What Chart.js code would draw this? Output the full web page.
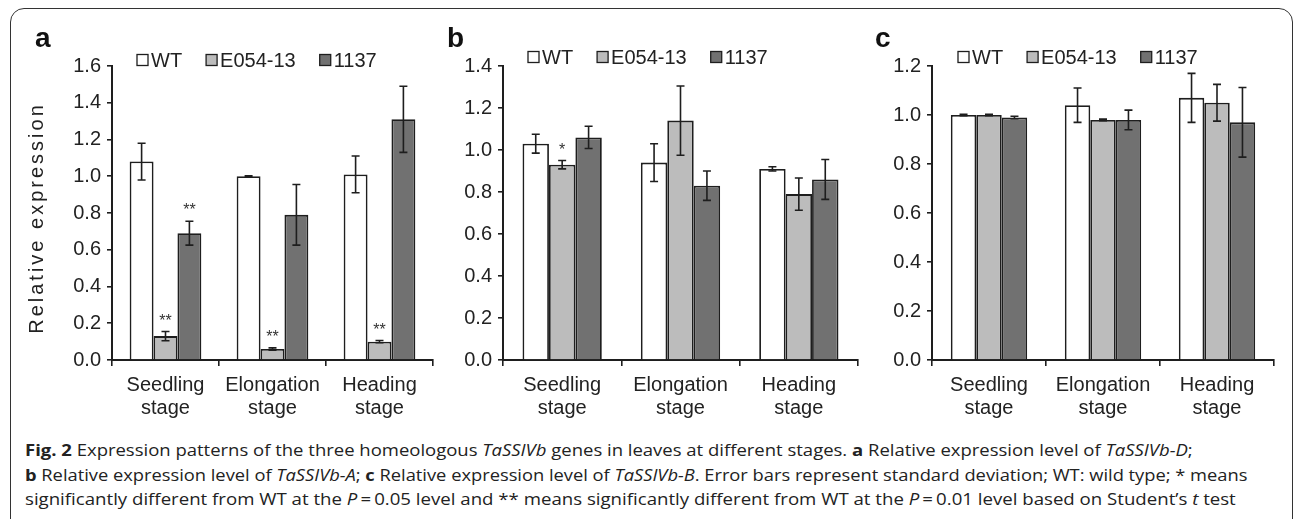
<!DOCTYPE html>
<html>
<head>
<meta charset="utf-8">
<script src="https://cdn.jsdelivr.net/npm/chart.js@4.4.1/dist/chart.umd.min.js"></script>
<style>
    body { margin: 0; background: #fff; width: 1295px; height: 519px; overflow: hidden; position: relative; }
    #frame { position: absolute; left: 10px; top: 8px; width: 1283px; height: 540px; border: 1.5px solid #333; border-radius: 14px; box-sizing: border-box; }
    .panel { position: absolute; top: 0; height: 430px; }
    #pa { left: 10px; width: 430px; }
    #pb { left: 440px; width: 425px; }
    #pc { left: 865px; width: 430px; }
    .cap { position: absolute; left: 25px; height: 20px; line-height: 20px; font-family: 'Open Sans', sans-serif; font-size: 16px; color: #222; white-space: nowrap; transform-origin: 0 50%; display: inline-block; }
    .cap b { font-weight: 700; }
</style>
</head>
<body>
<div id="frame"></div>
<div class="panel" id="pa"><canvas id="chartA"></canvas></div>
<div class="panel" id="pb"><canvas id="chartB"></canvas></div>
<div class="panel" id="pc"><canvas id="chartC"></canvas></div>

<div class="cap" id="cap1" style="top:440px"><b>Fig. 2</b> Expression patterns of the three homeologous <i>TaSSIVb</i> genes in leaves at different stages. <b>a</b> Relative expression level of <i>TaSSIVb-D</i>;</div>
<div class="cap" id="cap2" style="top:465px"><b>b</b> Relative expression level of <i>TaSSIVb-A</i>; <b>c</b> Relative expression level of <i>TaSSIVb-B</i>. Error bars represent standard deviation; WT: wild type; * means</div>
<div class="cap" id="cap3" style="top:489px">significantly different from WT at the <i>P</i>&thinsp;=&thinsp;0.05 level and ** means significantly different from WT at the <i>P</i>&thinsp;=&thinsp;0.01 level based on Student’s <i>t</i> test</div>

<script>
const stages = [['Seedling', 'stage'], ['Elongation', 'stage'], ['Heading', 'stage']];
const seriesNames = ['WT', 'E054-13', '1137'];
const seriesColors = ['#ffffff', '#bcbcbc', '#717171'];

// a: TaSSIVb-D
const aWT = [1.08, 1.00, 1.01];
const aWTErr = [0.10, 0.003, 0.10];
const aE054 = [0.13, 0.06, 0.10];
const aE054Err = [0.025, 0.006, 0.006];
const aE054Stars = ['**', '**', '**'];
const a1137 = [0.69, 0.79, 1.31];
const a1137Err = [0.065, 0.165, 0.18];
const a1137Stars = ['**', '', ''];

// b: TaSSIVb-A
const bWT = [1.03, 0.94, 0.91];
const bWTErr = [0.045, 0.09, 0.01];
const bE054 = [0.93, 1.14, 0.79];
const bE054Err = [0.02, 0.165, 0.077];
const bE054Stars = ['*', '', ''];
const b1137 = [1.06, 0.83, 0.86];
const b1137Err = [0.053, 0.07, 0.095];

// c: TaSSIVb-B
const cWT = [1.00, 1.04, 1.07];
const cWTErr = [0.003, 0.07, 0.10];
const cE054 = [1.00, 0.98, 1.05];
const cE054Err = [0.003, 0.003, 0.075];
const c1137 = [0.99, 0.98, 0.97];
const c1137Err = [0.005, 0.04, 0.142];

const yTicksA = [0, 0.2, 0.4, 0.6, 0.8, 1.0, 1.2, 1.4, 1.6];
const yTicksB = [0, 0.2, 0.4, 0.6, 0.8, 1.0, 1.2, 1.4];
const yTicksC = [0, 0.2, 0.4, 0.6, 0.8, 1.0, 1.2];

const INK = '#1e1e1e';
const FONT = "'Liberation Sans', Arial, sans-serif";

// error bars + significance stars
const errorBars = {
    id: 'errorBars',
    afterDatasetsDraw(chart) {
        const ctx = chart.ctx;
        const y = chart.scales.y;
        chart.data.datasets.forEach((ds, i) => {
            const meta = chart.getDatasetMeta(i);
            meta.data.forEach((bar, j) => {
                const v = ds.data[j], e = ds.err[j];
                const top = y.getPixelForValue(v + e);
                const bot = y.getPixelForValue(v - e);
                ctx.save();
                ctx.strokeStyle = INK;
                ctx.lineWidth = 1.6;
                ctx.beginPath();
                ctx.moveTo(bar.x, top); ctx.lineTo(bar.x, bot);
                ctx.moveTo(bar.x - 4, top); ctx.lineTo(bar.x + 4, top);
                ctx.moveTo(bar.x - 4, bot); ctx.lineTo(bar.x + 4, bot);
                ctx.stroke();
                if (ds.stars && ds.stars[j]) {
                    ctx.fillStyle = '#333';
                    ctx.font = '16px ' + FONT;
                    ctx.textAlign = 'center';
                    ctx.textBaseline = 'alphabetic';
                    ctx.fillText(ds.stars[j], bar.x, top - 6);
                }
                ctx.restore();
            });
        });
    }
};

// legend squares, panel letter and y title
const panelText = {
    id: 'panelText',
    afterDraw(chart, args, opts) {
        const ctx = chart.ctx;
        ctx.save();
        ctx.fillStyle = '#111';
        ctx.font = 'bold 28px ' + FONT;
        ctx.textBaseline = 'alphabetic';
        ctx.fillText(opts.letter, opts.letterX, 47);

        ctx.font = '20px ' + FONT;
        ctx.textBaseline = 'middle';
        let x = opts.legendX;
        chart.data.datasets.forEach(ds => {
            ctx.fillStyle = ds.backgroundColor;
            ctx.fillRect(x, opts.legendY - 5.5, 11, 11);
            ctx.strokeStyle = INK;
            ctx.lineWidth = 1.3;
            ctx.strokeRect(x, opts.legendY - 5.5, 11, 11);
            ctx.fillStyle = '#222';
            ctx.fillText(ds.label, x + 14, opts.legendY + 1);
            x += 14 + ctx.measureText(ds.label).width + 24;
        });

        if (opts.yTitle) {
            ctx.translate(opts.yTitleX, opts.yTitleY);
            ctx.rotate(-Math.PI / 2);
            ctx.letterSpacing = '3px';
            ctx.textAlign = 'center';
            ctx.fillStyle = '#222';
            ctx.fillText(opts.yTitle, 0, 0);
        }
        ctx.restore();
    }
};

function makeChart(id, sets, yTicks, yMax, geo) {
    const datasets = sets.map((s, i) => ({
        label: seriesNames[i],
        data: s.v,
        err: s.e,
        stars: s.stars,
        backgroundColor: seriesColors[i],
        borderColor: INK,
        borderWidth: 1.8,
        categoryPercentage: 0.67,
        barPercentage: 1.0
    }));
    return new Chart(document.getElementById(id), {
        type: 'bar',
        data: { labels: stages, datasets: datasets },
        options: {
            responsive: true,
            maintainAspectRatio: false,
            animation: false,
            layout: { padding: { left: geo.padLeft, right: geo.padRight, top: 66, bottom: 6 } },
            plugins: {
                legend: { display: false },
                tooltip: { enabled: false },
                panelText: geo.text
            },
            scales: {
                x: {
                    afterFit: s => { s.height = 64; },
                    grid: { display: true, offset: true, drawOnChartArea: false, tickLength: 6, color: INK, lineWidth: 1.6 },
                    border: { display: true, color: INK, width: 2 },
                    ticks: { color: '#222', font: { size: 20, family: FONT, lineHeight: 1.15 }, padding: 8, maxRotation: 0, autoSkip: false }
                },
                y: {
                    min: 0,
                    max: yMax,
                    afterFit: s => { s.width = geo.yWidth; },
                    afterBuildTicks: s => { s.ticks = yTicks.map(v => ({ value: v })); },
                    grid: { display: true, drawOnChartArea: false, tickLength: 5, color: INK, lineWidth: 1.6 },
                    border: { display: true, color: INK, width: 2 },
                    ticks: { color: '#222', font: { size: 20, family: FONT }, padding: 6, callback: v => v.toFixed(1) }
                }
            }
        },
        plugins: [errorBars, panelText]
    });
}

makeChart('chartA', [
    { v: aWT, e: aWTErr },
    { v: aE054, e: aE054Err, stars: aE054Stars },
    { v: a1137, e: a1137Err, stars: a1137Stars }
], yTicksA, 1.6, {
    padLeft: 55, yWidth: 47, padRight: 7,
    text: { letter: 'a', letterX: 25, legendX: 127, legendY: 60, yTitle: 'Relative expression', yTitleX: 27, yTitleY: 218 }
});

makeChart('chartB', [
    { v: bWT, e: bWTErr },
    { v: bE054, e: bE054Err, stars: bE054Stars },
    { v: b1137, e: b1137Err }
], yTicksB, 1.4, {
    padLeft: 16, yWidth: 47, padRight: 7,
    text: { letter: 'b', letterX: 7, legendX: 88, legendY: 57 }
});

makeChart('chartC', [
    { v: cWT, e: cWTErr },
    { v: cE054, e: cE054Err },
    { v: c1137, e: c1137Err }
], yTicksC, 1.2, {
    padLeft: 20, yWidth: 47, padRight: 21,
    text: { letter: 'c', letterX: 10, legendX: 93, legendY: 57 }
});

// fit caption lines to the widths seen in the figure
[['cap1', 1168], ['cap2', 1222], ['cap3', 1211]].forEach(([id, w]) => {
    const el = document.getElementById(id);
    el.style.transform = 'scaleX(' + (w / el.offsetWidth) + ')';
});
</script>
</body>
</html>
